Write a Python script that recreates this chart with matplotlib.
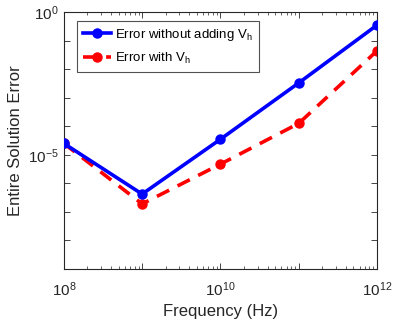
import matplotlib
matplotlib.use("Agg")
import matplotlib.pyplot as plt
from matplotlib.ticker import LogLocator, FixedLocator, FuncFormatter, NullLocator

plt.rcParams['font.family'] = ['Liberation Sans', 'DejaVu Sans']
plt.rcParams['mathtext.fontset'] = 'custom'
plt.rcParams['mathtext.rm'] = 'Liberation Sans'
plt.rcParams['mathtext.it'] = 'Liberation Sans'

freq = [1e8, 1e9, 1e10, 1e11, 1e12]
err_without = [2.5e-5, 4.2e-7, 3.5e-5, 3.3e-3, 0.35]
err_with = [2.5e-5, 1.9e-7, 4.7e-6, 1.26e-4, 0.044]
label_without = 'Error without adding V$_{\\mathrm{h}}$'
label_with = 'Error with V$_{\\mathrm{h}}$'
xlabel = 'Frequency (Hz)'
ylabel = 'Entire Solution Error'

fig = plt.figure(figsize=(3.94, 3.26), dpi=100)
ax = fig.add_axes([0.162, 0.175, 0.795, 0.788])
ax.plot(freq, err_without, '-o', color='#0000ff', lw=2.6, ms=6.5, label=label_without, zorder=3)
ax.plot(freq, err_with, '--o', color='#ff0000', lw=2.6, ms=6.5, dashes=(3.8, 2.6), label=label_with, zorder=2)
ax.set_xscale('log')
ax.set_yscale('log')
ax.set_xlim(1e8, 1e12)
ax.set_ylim(1e-9, 1)

ax.xaxis.set_major_locator(FixedLocator([1e8, 1e9, 1e10, 1e11, 1e12]))
ax.xaxis.set_minor_locator(LogLocator(base=10, subs=range(2, 10), numticks=20))
def xfmt(v, pos):
    import math
    e = int(round(math.log10(v)))
    return f'$10^{{{e}}}$' if e % 2 == 0 else ''
ax.xaxis.set_major_formatter(FuncFormatter(xfmt))

ax.yaxis.set_major_locator(FixedLocator([10.0**k for k in range(-9, 1)]))
ax.yaxis.set_minor_locator(NullLocator())
def yfmt(v, pos):
    import math
    e = int(round(math.log10(v)))
    return f'$10^{{{e}}}$' if e % 5 == 0 else ''
ax.yaxis.set_major_formatter(FuncFormatter(yfmt))

axc = '#262626'
for s in ax.spines.values():
    s.set_color(axc)
    s.set_linewidth(0.8)
ax.tick_params(which='both', direction='in', top=True, right=True, colors=axc, labelsize=11, labelcolor='#262626')
ax.tick_params(which='major', length=4, width=0.6)
ax.tick_params(which='minor', length=2.2, width=0.5)
ax.tick_params(axis='x', pad=8)

ax.set_xlabel(xlabel, fontsize=12, color='#262626', labelpad=4)
ax.set_ylabel(ylabel, fontsize=12, color='#262626', labelpad=4)

leg = ax.legend(loc='upper left', bbox_to_anchor=(0.042, 0.965), borderaxespad=0, fontsize=9.5,
                frameon=True, fancybox=False, edgecolor='#262626', handlelength=2.1, borderpad=0.45,
                labelspacing=0.6, handletextpad=0.35)
leg.get_frame().set_linewidth(0.8)

fig.savefig('out.png', dpi=100)
